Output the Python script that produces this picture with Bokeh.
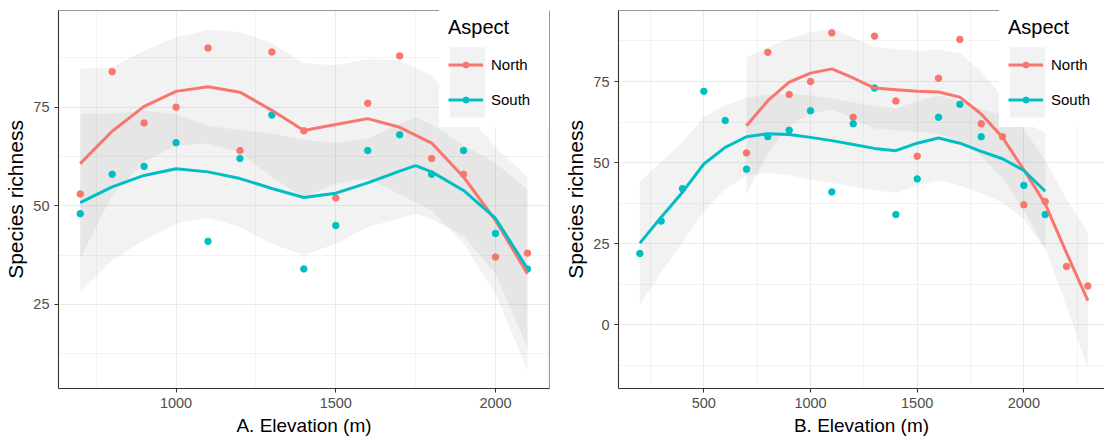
from bokeh.plotting import figure
from bokeh.layouts import row
from bokeh.models import FixedTicker, Legend, LegendItem, Span, Range1d
from bokeh.embed import file_html
from bokeh.resources import INLINE

NORTH_COLOR = "#F8766D"
SOUTH_COLOR = "#00BFC4"
BAND_COLOR = "#808080"
FONT = "Liberation Sans"

# ---- Panel A: observed species richness by elevation ----
elev_a = [700, 800, 900, 1000, 1100, 1200, 1300, 1400, 1500, 1600, 1700, 1800, 1900, 2000, 2100]
north_a = [53, 84, 71, 75, 90, 64, 89, 69, 52, 76, 88, 62, 58, 37, 38]
south_a = [48, 58, 60, 66, 41, 62, 73, 34, 45, 64, 68, 58, 64, 43, 34]

# loess fits (value and half-width of the confidence band)
fit_x_north_a = [700, 800, 900, 1000, 1100, 1200, 1300, 1400, 1500, 1600, 1700, 1800, 1900, 2000, 2100]
fit_north_a = [60.7, 68.9, 75.2, 79.0, 80.2, 78.8, 74.2, 69.1, 70.6, 72.1, 69.9, 65.9, 57.3, 46.3, 32.8]
se_north_a = [24.0, 16.2, 14.1, 13.7, 14.4, 15.2, 17.0, 17.0, 15.0, 15.1, 17.0, 17.1, 16.9, 18.6, 24.5]

fit_x_south_a = [700, 800, 900, 1000, 1100, 1200, 1300, 1400, 1500, 1600, 1700, 1750, 1800, 1900, 2000, 2100]
fit_south_a = [50.8, 54.8, 57.7, 59.4, 58.6, 56.9, 54.4, 52.1, 53.2, 55.8, 58.8, 60.2, 58.6, 53.9, 46.8, 34.1]
se_south_a = [22.6, 18.6, 16.4, 13.9, 11.6, 12.3, 14.0, 14.6, 12.8, 11.2, 12.0, 12.2, 12.0, 11.5, 14.0, 20.1]

# ---- Panel B: extended elevation range ----
elev_b_north = [700, 800, 900, 1000, 1100, 1200, 1300, 1400, 1500, 1600, 1700, 1800, 1900, 2000, 2100, 2200, 2300]
north_b = [53, 84, 71, 75, 90, 64, 89, 69, 52, 76, 88, 62, 58, 37, 38, 18, 12]
elev_b_south = [200, 300, 400, 500, 600, 700, 800, 900, 1000, 1100, 1200, 1300, 1400, 1500, 1600, 1700, 1800, 1900, 2000, 2100]
south_b = [22, 32, 42, 72, 63, 48, 58, 60, 66, 41, 62, 73, 34, 45, 64, 68, 58, 64, 43, 34]

fit_x_north_b = [700, 800, 900, 1000, 1100, 1200, 1300, 1400, 1500, 1600, 1700, 1800, 1900, 2000, 2100, 2200, 2300]
fit_north_b = [61.4, 69.1, 74.8, 77.6, 78.9, 76.1, 73.0, 72.5, 72.0, 71.8, 70.2, 65.0, 57.8, 47.8, 37.3, 22.2, 7.5]
se_north_b = [21.0, 16.5, 13.5, 12.5, 12.5, 12.5, 12.5, 12.5, 12.5, 13.0, 13.5, 13.0, 12.5, 12.5, 13.5, 16.5, 21.0]

fit_x_south_b = [200, 300, 400, 500, 600, 700, 800, 900, 1000, 1100, 1200, 1300, 1400, 1500, 1600, 1700, 1800, 1900, 2000, 2100]
fit_south_b = [25.2, 33.2, 40.9, 49.6, 54.7, 58.0, 58.9, 58.7, 57.8, 56.8, 55.6, 54.4, 53.7, 56.0, 57.6, 56.0, 53.5, 51.2, 47.6, 41.2]
se_south_b = [19.0, 17.0, 15.5, 14.5, 13.0, 12.0, 12.0, 12.5, 13.0, 13.0, 13.0, 13.0, 13.0, 13.0, 13.0, 13.0, 13.0, 13.5, 15.0, 18.0]

aspects = ["North", "South"]


def make_panel(xlabel, x_rng, y_rng, x_major, x_minor, y_major, y_minor,
               series, width, border_right, right_border):
    p = figure(width=width, height=441, x_range=Range1d(*x_rng), y_range=Range1d(*y_rng),
               output_backend="svg", toolbar_location=None,
               min_border_left=58, min_border_right=border_right,
               min_border_top=10, min_border_bottom=53)
    p.outline_line_color = None
    p.background_fill_color = "white"
    p.border_fill_color = "white"

    p.xaxis.ticker = FixedTicker(ticks=x_major, minor_ticks=x_minor)
    p.yaxis.ticker = FixedTicker(ticks=y_major, minor_ticks=y_minor)
    for grid in (p.xgrid, p.ygrid):
        grid.grid_line_color = "#EBEBEB"
        grid.grid_line_width = 1.1
        grid.minor_grid_line_color = "#EBEBEB"
        grid.minor_grid_line_width = 0.6

    for ax in (p.xaxis, p.yaxis):
        ax.axis_line_color = "#333333"
        ax.axis_line_width = 1.1
        ax.major_tick_line_color = "#333333"
        ax.major_tick_line_width = 1.1
        ax.major_tick_out = 4
        ax.major_tick_in = 0
        ax.minor_tick_line_color = None
        ax.major_label_text_font = FONT
        ax.major_label_text_font_size = "14.5px"
        ax.major_label_text_color = "#4D4D4D"
        ax.major_label_standoff = 5
        ax.axis_label_text_font = FONT
        ax.axis_label_text_font_style = "normal"
        ax.axis_label_text_color = "black"
    p.xaxis.axis_label = xlabel
    p.xaxis.axis_label_text_font_size = "19px"
    p.xaxis.axis_label_standoff = 4
    p.yaxis.axis_label = "Species richness"
    p.yaxis.axis_label_text_font_size = "21px"
    p.yaxis.axis_label_standoff = 3

    # panel border (top, and right where it is in view)
    p.add_layout(Span(location=y_rng[1], dimension="width", line_color="#333333", line_width=1.1))
    if right_border:
        p.add_layout(Span(location=x_rng[1], dimension="height", line_color="#333333", line_width=1.1))

    bands, pts, lines = [], [], []
    for name, color, xs, ys, cx, fit, se in series:
        lo = [f - s for f, s in zip(fit, se)]
        hi = [f + s for f, s in zip(fit, se)]
        bands.append(p.varea(x=cx, y1=lo, y2=hi, fill_color=BAND_COLOR, fill_alpha=0.1))
    for name, color, xs, ys, cx, fit, se in series:
        pts.append(p.scatter(xs, ys, size=6.5, fill_color=color, line_color=color))
    for name, color, xs, ys, cx, fit, se in series:
        lines.append(p.line(cx, fit, line_color=color, line_width=3))

    # legend, in layers: a plain white backdrop ...
    backdrop = Legend(items=[LegendItem(label="", renderers=[])],
                      location=(381, 261),
                      glyph_width=101, glyph_height=127, label_height=0,
                      label_standoff=0, spacing=0, padding=0, margin=0,
                      border_line_color=None,
                      background_fill_color="white", background_fill_alpha=1.0)
    # ... title and labels ...
    text_layer = Legend(items=[LegendItem(label=s[0], renderers=[]) for s in series],
                        location=(390, 271),
                        title="Aspect", title_text_font=FONT, title_text_font_size="20px",
                        title_text_font_style="normal", title_text_color="black",
                        title_standoff=8,
                        label_text_font=FONT, label_text_font_size="15px",
                        label_text_color="black", label_standoff=8,
                        glyph_width=35, glyph_height=35, label_height=35,
                        spacing=0, padding=10, margin=0, border_line_color=None,
                        background_fill_color="white", background_fill_alpha=1.0)
    # ... one shaded block behind both keys ...
    shade_layer = Legend(items=[LegendItem(label="", renderers=[bands[0]])],
                         location=(386.6, 262.2),
                         glyph_width=44, glyph_height=88, label_height=0,
                         label_standoff=0, spacing=0, padding=0, margin=0,
                         border_line_color=None, background_fill_alpha=0.0)
    # ... and each key's line with its point
    mark_layer = Legend(items=[LegendItem(label="", renderers=[l, q])
                               for l, q in zip(lines, pts)],
                        location=(390, 271),
                        glyph_width=35, glyph_height=15, label_height=35,
                        label_standoff=0, spacing=0, padding=0, margin=0,
                        border_line_color=None, background_fill_alpha=0.0)
    for layer in (backdrop, text_layer, shade_layer, mark_layer):
        p.add_layout(layer)
    return p


panel_a = make_panel(
    "A. Elevation (m)", (632, 2169), (3.7, 99.5),
    [1000, 1500, 2000], [750, 1250, 1750],
    [25, 50, 75], [12.5, 37.5, 62.5, 87.5],
    [(aspects[0], NORTH_COLOR, elev_a, north_a, fit_x_north_a, fit_north_a, se_north_a),
     (aspects[1], SOUTH_COLOR, elev_a, south_a, fit_x_south_a, fit_south_a, se_south_a)],
    width=560, border_right=11, right_border=True)

panel_b = make_panel(
    "B. Elevation (m)", (100, 2378), (-19.6, 96.9),
    [500, 1000, 1500, 2000], [250, 750, 1250, 1750, 2250],
    [0, 25, 50, 75], [-12.5, 12.5, 37.5, 62.5, 87.5],
    [(aspects[0], NORTH_COLOR, elev_b_north, north_b, fit_x_north_b, fit_north_b, se_north_b),
     (aspects[1], SOUTH_COLOR, elev_b_south, south_b, fit_x_south_b, fit_south_b, se_south_b)],
    width=544, border_right=0, right_border=False)

layout = row(panel_a, panel_b, spacing=0)
open("out.html", "w").write(file_html(layout, INLINE))
